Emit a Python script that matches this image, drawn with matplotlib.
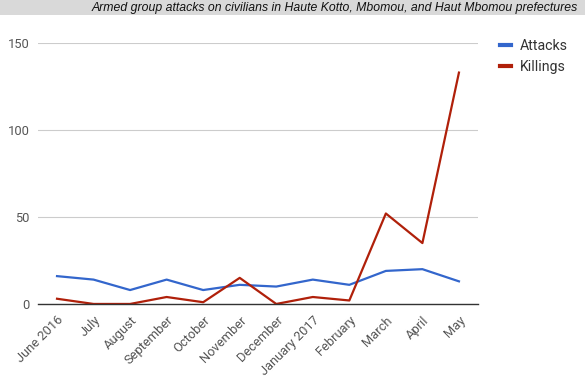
import matplotlib.pyplot as plt
from matplotlib.patches import Rectangle

plt.rcParams['font.family'] = ['Roboto', 'DejaVu Sans']

months = ["June 2016", "July", "August", "September", "October", "November",
          "December", "January 2017", "February", "March", "April", "May"]
attacks = [16, 14, 8, 14, 8, 11, 10, 14, 11, 19, 20, 13]
killings = [3, 0, 0, 4, 1, 15, 0, 4, 2, 52, 35, 133]
title = "Armed group attacks on civilians in Haute Kotto, Mbomou, and Haut Mbomou prefectures"

fig = plt.figure(figsize=(5.85, 3.79), dpi=100)
ax = fig.add_axes([0.065, 0.198, 0.752, 0.6885])

x = range(len(months))
ax.plot(x, attacks, color="#3366cc", lw=1.6, label="Attacks")
ax.plot(x, killings, color="#b0200a", lw=1.6, label="Killings")

ax.set_xlim(-0.52, 11.52)
ax.set_ylim(0, 150)
ax.set_yticks([0, 50, 100, 150])
ax.set_xticks(list(x))
ax.set_xticklabels(months, rotation=45, ha="right", va="top", rotation_mode="anchor")
ax.tick_params(axis="both", length=0, labelsize=9.3, labelcolor="#555555")
ax.tick_params(axis="y", pad=6)
ax.tick_params(axis="x", pad=7)
ax.grid(axis="y", color="#cccccc", lw=0.8)
ax.set_axisbelow(True)
for s in ["top", "right", "left"]:
    ax.spines[s].set_visible(False)
ax.spines["bottom"].set_color("#333333")
ax.spines["bottom"].set_linewidth(1.0)
ax.spines["bottom"].set_zorder(3)

ax.legend(loc="upper left", bbox_to_anchor=(0.833, 0.93), bbox_transform=fig.transFigure,
          frameon=False, fontsize=10.2, handlelength=0.8, handletextpad=0.6,
          labelspacing=0.45, labelcolor="#333333")
for line in ax.get_legend().get_lines():
    line.set_linewidth(3)

# grey title band
fig.patches.append(Rectangle((0, 0.96), 1, 0.04, transform=fig.transFigure,
                             facecolor="#d9d9d9", edgecolor="none", zorder=0))
fig.text(0.988, 0.98, title, ha="right", va="center", fontsize=8.8,
         style="italic", family=["Liberation Sans", "DejaVu Sans"], color="#111111")

fig.savefig("out.png", dpi=100)
